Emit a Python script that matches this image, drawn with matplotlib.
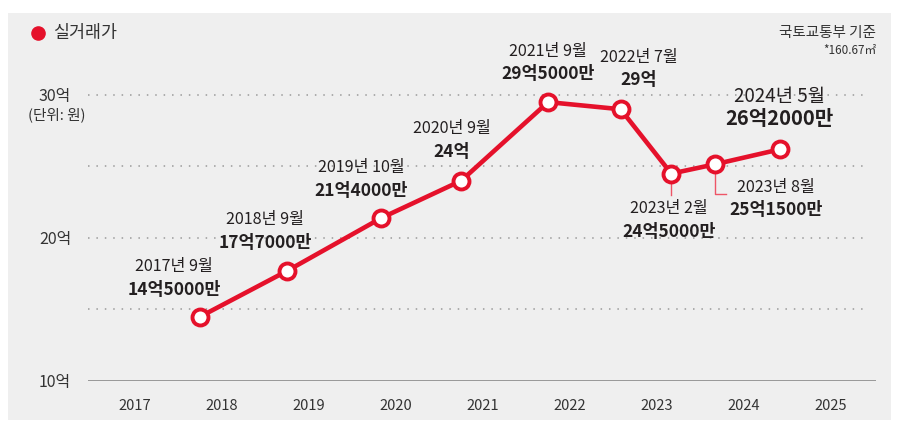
import matplotlib.pyplot as plt
from matplotlib.patches import Rectangle

plt.rcParams['font.family'] = ['Noto Sans CJK KR', 'DejaVu Sans']

# data (억 원)
years = [2017, 2018, 2019, 2020, 2021, 2022, 2023, 2023, 2024]
months = [9, 9, 10, 9, 9, 7, 2, 8, 5]
prices = [14.5, 17.7, 21.4, 24.0, 29.5, 29.0, 24.5, 25.15, 26.2]
date_labels = ['2017년 9월', '2018년 9월', '2019년 10월', '2020년 9월', '2021년 9월',
               '2022년 7월', '2023년 2월', '2023년 8월', '2024년 5월']
price_labels = ['14억5000만', '17억7000만', '21억4000만', '24억', '29억5000만',
                '29억', '24억5000만', '25억1500만', '26억2000만']
year_ticks = list(range(2017, 2026))
y_ticks = [10, 20, 30]
y_tick_labels = ['10억', '20억', '30억']
grid_levels = [15, 20, 25, 30]

# label offsets from each point (pixels)
label_dx = [-26, -22, -20, -9, 0, 18, -2, 61, -1]
label_dy = [50, 51, 50, 52, 51, 52, -35, -23, 53]

red = '#e5112b'
ink = '#231f20'

x = [y + m / 12 for y, m in zip(years, months)]

fig = plt.figure(figsize=(9.21, 4.22), dpi=100)
fig.patch.set_facecolor('white')
fig.patches.append(Rectangle((8 / 921, 2 / 422), 883 / 921, 407 / 422,
                             transform=fig.transFigure, facecolor='#efefef',
                             edgecolor='none', zorder=-10))

ax = fig.add_axes([88 / 921, 41 / 422, 788 / 921, 361 / 422])
ax.set_facecolor('none')
ax.set_xlim(2016.46, 2025.52)
ax.set_ylim(10, 35.24)
for s in ax.spines.values():
    s.set_visible(False)

# grid
ax.axhline(10, color='#8a8a8a', lw=1.2, zorder=1)
for g in grid_levels:
    ax.axhline(g, color='#9a9a9a', lw=1.1, ls=(0, (1, 4.5)), xmax=0.985, zorder=1)

ax.set_xticks(year_ticks)
ax.set_xticklabels([str(y) for y in year_ticks], fontsize=10.5, color='#333333')
ax.set_yticks(y_ticks)
ax.set_yticklabels(y_tick_labels, fontsize=11.5, color='#333333')
ax.tick_params(axis='x', length=0, pad=13)
ax.tick_params(axis='y', length=0, pad=12)

fig.text(57 / 921, 1 - 115 / 422, '(단위: 원)', ha='center', va='center',
         fontsize=10.5, color='#333333')

# line
ax.plot(x, prices, color=red, lw=3.3, marker='o', ms=11.5, mfc='white',
        mec=red, mew=2.8, zorder=3, solid_joinstyle='miter')

# leader lines for the two labels under the line
ax.plot([x[6], x[6]], [prices[6], prices[6] - 1.47], color='#ee5566', lw=1, zorder=2)
ax.plot([x[7], x[7], x[7] + 0.126], [prices[7], prices[7] - 2.1, prices[7] - 2.1],
        color='#ee5566', lw=1, zorder=2)

# labels
for i in range(len(x)):
    big = i == len(x) - 1
    ax.annotate(date_labels[i], (x[i], prices[i]), xytext=(label_dx[i], label_dy[i]),
                textcoords='offset pixels', ha='center', va='center',
                fontsize=13.5 if big else 11.6, color=ink)
    ax.annotate(price_labels[i], (x[i], prices[i]),
                xytext=(label_dx[i], label_dy[i] - (22 if big else 23)),
                textcoords='offset pixels', ha='center', va='center',
                fontsize=14.5 if big else 12.5, fontweight='black', color=ink)

# legend and source
ax.plot([38 / 921], [1 - 33 / 422], 'o', transform=fig.transFigure, ms=9.5,
        color=red, clip_on=False)
fig.text(53 / 921, 1 - 33 / 422, '실거래가', ha='left', va='center',
         fontsize=12.5, color='#333333')
fig.text(876 / 921, 1 - 33 / 422, '국토교통부 기준', ha='right', va='center',
         fontsize=10.5, color='#333333')
fig.text(876 / 921, 1 - 51 / 422, '*160.67㎡', ha='right', va='center',
         fontsize=8.5, color='#333333')

fig.savefig('out.png', dpi=100)
